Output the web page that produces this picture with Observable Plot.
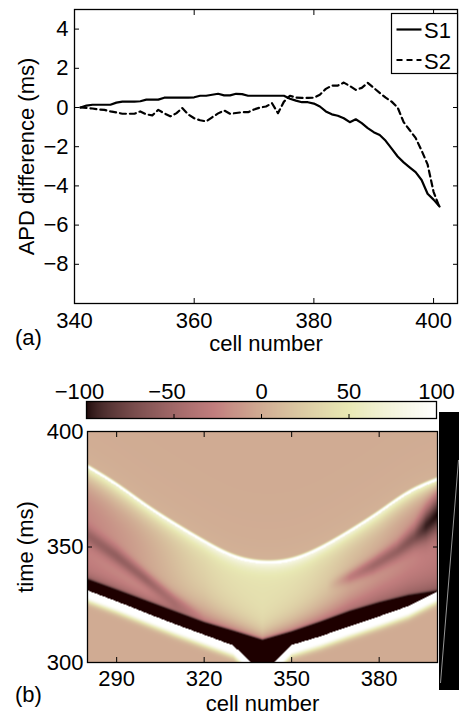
<!DOCTYPE html>
<html><head><meta charset="utf-8">
<script src="https://cdn.jsdelivr.net/npm/d3@7"></script>
<script src="https://cdn.jsdelivr.net/npm/@observablehq/plot@0.6"></script>
<style>
html,body{margin:0;padding:0;background:#fff;}
#root{position:relative;width:459px;height:717px;overflow:hidden;font-family:"Liberation Sans",Arial,Helvetica,sans-serif;}
#root > .layer{position:absolute;left:0;}
</style></head><body><div id="root"></div>
<script>
// ---------- Panel (a) data ----------
const firstCellA = 341;
const s1Values = [0.0,0.1,0.14,0.14,0.14,0.14,0.25,0.3,0.3,0.3,0.32,0.4,0.4,0.4,0.5,0.5,0.5,0.5,0.5,0.52,0.6,0.6,0.65,0.7,0.62,0.62,0.7,0.68,0.6,0.6,0.6,0.6,0.6,0.6,0.6,0.45,0.35,0.27,0.27,0.2,0.05,-0.2,-0.35,-0.42,-0.55,-0.75,-0.6,-0.8,-1.05,-1.26,-1.4,-1.7,-2.1,-2.5,-2.8,-3.05,-3.3,-3.7,-4.4,-4.7,-5.05];
const s2Values = [0.0,-0.02,-0.05,-0.1,-0.12,-0.2,-0.25,-0.32,-0.32,-0.32,-0.2,-0.35,-0.4,-0.12,-0.3,-0.45,-0.3,-0.03,-0.35,-0.55,-0.65,-0.71,-0.5,-0.3,-0.15,-0.32,-0.28,-0.24,-0.24,-0.1,0.0,0.05,0.22,-0.29,0.3,0.6,0.5,0.49,0.49,0.5,0.65,0.95,1.12,1.12,1.27,1.1,0.9,1.0,1.26,1.0,0.75,0.5,0.3,0.0,-0.75,-1.15,-1.55,-2.2,-2.9,-4.3,-5.1];
const xDomainA = [340, 404];
const yDomainA = [-10, 5];
const xTicksA = [340, 360, 380, 400];
const yTicksA = [-8, -6, -4, -2, 0, 2, 4];

// ---------- Panel (b) data (features) ----------
const cellDomainB = [280, 400];
const timeDomainB = [300, 400];
const xTicksB = [290, 320, 350, 380];
const yTicksB = [300, 350, 400];
const colorTicks = [-100, -50, 0, 50, 100];
const hmCells    = [280, 290, 300, 310, 320, 330, 340, 350, 360, 370, 380, 390, 400];
const ridgeTime  = [385, 377.5, 368, 360, 352.5, 345.5, 343, 344, 349.5, 357, 365, 374.5, 379.5];
const bandTop    = [335.8, 331.2, 326.5, 321.8, 317.1, 313.4, 309.5, 313.1, 317.4, 322, 325.7, 328.8, 330.8];
const bandBottom = [331.2, 326.5, 321.5, 316.6, 312, 307.4, 295, 307.6, 311.4, 315.8, 320, 324.4, 330.8];
const innerLevel = [-25, -18, -5, 14, 36, 42, 42, 42, 36, 15, 0, -15, -28];
const ridgeGlow  = [6, 6, 5, 4, 3, 3, 3, 3, 3, 4, 5, 5, 4];
const bandFringe = [3, 3.5, 4, 6, 8, 6, 4, 6, 8, 9, 9, 8, 6];
const stripeLCells    = [280, 290, 300, 310, 320];
const stripeLTime     = [355, 346, 336, 326, 319];
const stripeLLevel    = [-55, -58, -52, -40, -30];
const stripeLWidth    = [4, 4, 3.5, 3.5, 3];
const stripeLStrength = [1, 1, 1, 0.7, 0];
const stripeRCells    = [362, 370, 378, 386, 392, 396, 400];
const stripeRTime     = [333, 337, 342, 348, 354, 359, 364];
const stripeRLevel    = [-20, -35, -45, -55, -70, -95, -100];
const stripeRWidth    = [2.5, 3, 3.5, 4, 5, 7, 8];
const stripeRStrength = [0, 0.7, 1, 1, 1, 1, 1];
const whiteWidth = 2.6, whiteFade = 2.6;

// MATLAB "pink" colormap
function pinkMap(t) {
  const m = 64, n = 24;
  const u = t * (m - 1) + 1;
  const r = Math.min(1, u / n);
  const g = Math.max(0, Math.min(1, (u - n) / n));
  const b = Math.max(0, Math.min(1, (u - 2 * n) / (m - 2 * n)));
  const f = v => Math.round(255 * Math.sqrt((2 * t + v) / 3));
  return `rgb(${f(r)},${f(g)},${f(b)})`;
}

const lin = (xs, ys) => d3.scaleLinear().domain(xs).range(ys).clamp(true);
const smooth = (xs, ys) => {
  const f = d3.interpolateBasis(ys);
  const s = d3.scaleLinear().domain([xs[0], xs[xs.length - 1]]).range([0, 1]).clamp(true);
  return c => f(s(c));
};
const ridgeAt = smooth(hmCells, ridgeTime), topAt = lin(hmCells, bandTop), botAt = lin(hmCells, bandBottom);
const innerAt = smooth(hmCells, innerLevel), glowAt = lin(hmCells, ridgeGlow), fringeAt = lin(hmCells, bandFringe);
function makeStripe(cs, ts, ls, ws, ss) {
  const T = lin(cs, ts), L = lin(cs, ls), W = lin(cs, ws), S = lin(cs, ss), lo = cs[0], hi = cs[cs.length - 1];
  return (v, c, t) => {
    if (c < lo || c > hi) return v;
    const k = S(c) * Math.exp(-(((t - T(c)) / W(c)) ** 2));
    return v + (L(c) - v) * k;
  };
}
const stripeL = makeStripe(stripeLCells, stripeLTime, stripeLLevel, stripeLWidth, stripeLStrength);
const stripeR = makeStripe(stripeRCells, stripeRTime, stripeRLevel, stripeRWidth, stripeRStrength);

function field(c, t) {
  const r = ridgeAt(c), a = topAt(c), b = botAt(c);
  if (t >= r) {
    const d = t - r;
    return 100 * Math.exp(-((d / 0.7) ** 2)) + 5 * Math.exp(-d / 8);
  }
  if (t > a) {
    const d = r - t, base = innerAt(c);
    const g = d < 0.8 ? 1 : 0.72 * Math.exp(-(d - 0.8) / glowAt(c));
    let v = base + (100 - base) * g;
    v = stripeL(v, c, t);
    v = stripeR(v, c, t);
    const e = t - a, fw = fringeAt(c);
    const h = Math.min(1, 0.55 * Math.exp(-e / fw) + 0.45 * Math.exp(-((e / 0.8) ** 2)));
    return v + (-100 - v) * h;
  }
  if (t >= b) return -100;
  const e = b - t;
  if (e < whiteWidth) return 100;
  return 100 * Math.exp(-(((e - whiteWidth) / whiteFade) ** 2));
}

const font = "Liberation Sans, Arial, Helvetica, sans-serif";
const baseStyle = {fontFamily: font, fontSize: "22px", background: "transparent", overflow: "visible", color: "black"};
const colorOpts = {type: "linear", domain: [-100, 100], interpolate: pinkMap, clamp: true};
const blank = () => "";

const root = document.getElementById("root");
function place(el, top) { el.classList.add("layer"); el.style.top = top + "px"; root.appendChild(el); }

// ---------- Panel (a) ----------
const rowsA = s1Values.map((v, i) => ({cell: firstCellA + i, apd: v}));
const rowsB = s2Values.map((v, i) => ({cell: firstCellA + i, apd: v}));
const plotA = Plot.plot({
  width: 459, height: 352, marginTop: 9, marginBottom: 49, marginLeft: 74, marginRight: 2,
  style: baseStyle,
  x: {domain: xDomainA}, y: {domain: yDomainA},
  marks: [
    Plot.line(rowsA, {x: "cell", y: "apd", stroke: "black", strokeWidth: 2.2}),
    Plot.line(rowsB, {x: "cell", y: "apd", stroke: "black", strokeWidth: 2.2, strokeDasharray: "6,4"}),
    Plot.frame({stroke: "black", strokeWidth: 1.3}),
    Plot.axisX({ticks: xTicksA, tickSize: 0, tickPadding: 9, label: "cell number", labelAnchor: "center", labelArrow: "none", labelOffset: 47}),
    Plot.axisX({ticks: xTicksA, tickSize: 5, dy: -5, tickFormat: blank, label: null}),
    Plot.axisX({anchor: "top", ticks: xTicksA, tickSize: 5, dy: 5, tickFormat: blank, label: null}),
    Plot.axisY({ticks: yTicksA, tickSize: 0, tickPadding: 6, label: "APD difference (ms)", labelAnchor: "center", labelArrow: "none", labelOffset: 56}),
    Plot.axisY({ticks: yTicksA, tickSize: 5, dx: 5, tickFormat: blank, label: null}),
    Plot.axisY({anchor: "right", ticks: yTicksA, tickSize: 5, dx: -5, tickFormat: blank, label: null})
  ]
});
place(plotA, 0);

// ---------- Colorbar ----------
const cbar = Plot.plot({
  width: 459, height: 50, marginTop: 31, marginBottom: 2, marginLeft: 86, marginRight: 23,
  style: baseStyle,
  x: {domain: colorOpts.domain}, y: {domain: [0, 1], axis: null},
  color: colorOpts,
  marks: [
    Plot.raster({fill: (x, y) => x, x1: colorOpts.domain[0], x2: colorOpts.domain[1], y1: 0, y2: 1}),
    Plot.frame({stroke: "black", strokeWidth: 1.3}),
    Plot.axisX({anchor: "top", ticks: colorTicks.filter(d => d < 0), tickSize: 0, tickPadding: 3, dx: -7, label: null}),
    Plot.axisX({anchor: "top", ticks: colorTicks.filter(d => d >= 0), tickSize: 0, tickPadding: 3, label: null}),
    Plot.axisX({ticks: colorTicks, tickSize: 4, dy: -4, tickFormat: blank, label: null})
  ]
});
place(cbar, 370);

// ---------- Panel (b) ----------
const plotB = Plot.plot({
  width: 459, height: 357, marginTop: 71, marginBottom: 55, marginLeft: 87, marginRight: 22,
  style: baseStyle,
  x: {domain: cellDomainB}, y: {domain: timeDomainB},
  color: colorOpts,
  marks: [
    Plot.raster({fill: field, x1: cellDomainB[0], x2: cellDomainB[1], y1: timeDomainB[0], y2: timeDomainB[1]}),
    Plot.frame({stroke: "black", strokeWidth: 1.3}),
    Plot.axisX({ticks: xTicksB, tickSize: 0, tickPadding: 8, label: "cell number", labelAnchor: "center", labelArrow: "none", labelOffset: 48}),
    Plot.axisX({ticks: xTicksB, tickSize: 5, dy: -5, tickFormat: blank, label: null}),
    Plot.axisX({anchor: "top", ticks: xTicksB, tickSize: 5, dy: 5, tickFormat: blank, label: null}),
    Plot.axisY({ticks: yTicksB, tickSize: 0, tickPadding: 4, label: "time (ms)", labelAnchor: "center", labelArrow: "none", labelOffset: 70}),
    Plot.axisY({ticks: yTicksB, tickSize: 5, dx: 5, tickFormat: blank, label: null}),
    Plot.axisY({anchor: "right", ticks: yTicksB, tickSize: 5, dx: -5, tickFormat: blank, label: null})
  ]
});
place(plotB, 360);

// ---------- Overlay: panel letters, legend, side artefact ----------
const ns = "http://www.w3.org/2000/svg";
const ov = document.createElementNS(ns, "svg");
ov.setAttribute("width", 459); ov.setAttribute("height", 717);
ov.style.position = "absolute"; ov.style.left = "0"; ov.style.top = "0"; ov.style.pointerEvents = "none";
ov.innerHTML = `
  <g font-family="${font}" font-size="22" fill="black">
    <text x="15" y="345">(a)</text>
    <text x="15" y="702">(b)</text>
  </g>
  <rect x="391.5" y="13.5" width="66" height="60" fill="white" stroke="black" stroke-width="1.2"/>
  <line x1="396.5" x2="421.5" y1="29.5" y2="29.5" stroke="black" stroke-width="2.2"/>
  <line x1="396.5" x2="421.5" y1="60" y2="60" stroke="black" stroke-width="2.2" stroke-dasharray="6,4"/>
  <g font-family="${font}" font-size="22" fill="black">
    <text x="424" y="37.5">S1</text>
    <text x="424" y="68.5">S2</text>
  </g>
  <rect x="439" y="412" width="20" height="278" fill="black"/>
  <line x1="458.5" y1="460" x2="440.5" y2="683" stroke="#bbbbbb" stroke-width="0.8"/>
`;
root.appendChild(ov);
</script></body></html>
